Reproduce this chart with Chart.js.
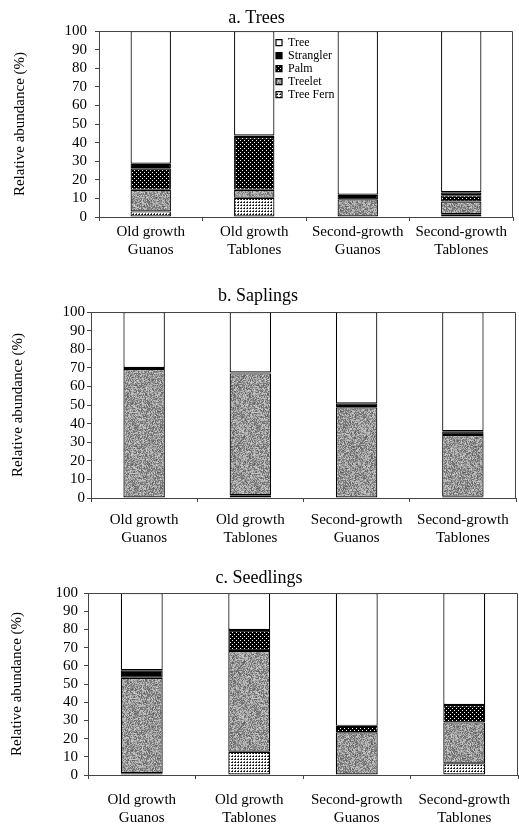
<!DOCTYPE html>
<html>
<head>
<meta charset="utf-8">
<script src="https://cdn.jsdelivr.net/npm/chart.js@4.4.0/dist/chart.umd.min.js"></script>
<style>
html,body{margin:0;padding:0;background:#fff;}
#wrap{position:relative;width:519px;height:827px;overflow:hidden;}
.pane{position:absolute;left:0;width:519px;}
</style>
</head>
<body>
<div id="wrap">
  <div class="pane" style="top:0;height:262px"><canvas id="ca"></canvas></div>
  <div class="pane" style="top:262px;height:286px"><canvas id="cb"></canvas></div>
  <div class="pane" style="top:548px;height:279px"><canvas id="cc"></canvas></div>
</div>
<script>
// ---------- data ----------
const categories = [["Old growth","Guanos"],["Old growth","Tablones"],["Second-growth","Guanos"],["Second-growth","Tablones"]];
const seriesNames = ["Tree Fern","Treelet","Palm","Strangler","Tree"];
const panelTitles = ["a. Trees","b. Saplings","c. Seedlings"];
const yAxisTitle = "Relative abundance (%)";
const yTickMin = 0, yTickMax = 100, yTickStep = 10;

// a. Trees
const treesTreeFern  = [3.0, 10.3, 0.0, 1.5];
const treesTreelet   = [11.6, 4.3, 9.5, 6.8];
const treesPalm      = [11.6, 28.4, 0.0, 3.4];
const treesStrangler = [2.4, 0.8, 2.5, 1.6];
const treesTree      = [71.4, 56.2, 88.0, 86.7];

// b. Saplings
const saplingsTreeFern  = [0.0, 1.5, 0.0, 0.7];
const saplingsTreelet   = [69.3, 65.5, 48.8, 33.2];
const saplingsPalm      = [0.0, 0.0, 0.0, 0.0];
const saplingsStrangler = [0.6, 0.5, 2.1, 2.0];
const saplingsTree      = [30.1, 32.5, 49.1, 64.1];

// c. Seedlings
const seedlingsTreeFern  = [1.0, 12.8, 0.0, 6.4];
const seedlingsTreelet   = [52.4, 55.3, 23.5, 22.5];
const seedlingsPalm      = [0.0, 11.6, 3.5, 9.6];
const seedlingsStrangler = [4.2, 0.0, 0.0, 0.0];
const seedlingsTree      = [42.4, 20.3, 73.0, 61.5];

// ---------- fill patterns ----------
function makePattern(size, draw){
  const c = document.createElement('canvas');
  c.width = size; c.height = size;
  const x = c.getContext('2d');
  draw(x, size);
  return x.createPattern(c, 'repeat');
}
const treeletFill = makePattern(61, (x, s) => {
  for (let i = 0; i < s; i++) for (let j = 0; j < s; j++) {
    let h = Math.imul(i + 11, 73856093) ^ Math.imul(j + 7, 19349663);
    h = Math.imul(h ^ (h >>> 15), 2246822519);
    h = Math.imul(h ^ (h >>> 13), 3266489917);
    h = (h ^ (h >>> 16)) >>> 0;
    const v = 95 + (h % 110);
    x.fillStyle = 'rgb(' + v + ',' + v + ',' + v + ')';
    x.fillRect(i, j, 1, 1);
  }
});
const palmFill = makePattern(4, (x) => {
  x.fillStyle = '#000'; x.fillRect(0, 0, 4, 4);
  x.fillStyle = '#fff'; x.fillRect(0, 0, 1, 1); x.fillRect(2, 2, 1, 1);
});
const fernFill = makePattern(3, (x) => {
  x.fillStyle = '#fff'; x.fillRect(0, 0, 3, 3);
  x.fillStyle = '#000'; x.fillRect(1, 1, 1, 1);
  x.fillStyle = '#444'; x.fillRect(0, 1, 1, 1);
  x.fillStyle = '#666'; x.fillRect(1, 0, 1, 1);
});
const seriesFills = [fernFill, treeletFill, palmFill, '#000', '#fff'];

// ---------- helpers ----------
const serif = 'Liberation Serif, Times New Roman, serif';

const frame = {
  id: 'frame',
  afterDatasetsDraw(chart){
    const {ctx, chartArea: a} = chart;
    ctx.save();
    ctx.strokeStyle = '#444';
    ctx.lineWidth = 1;
    ctx.beginPath();
    ctx.moveTo(a.left, a.top + 0.5);
    ctx.lineTo(a.right - 0.5, a.top + 0.5);
    ctx.lineTo(a.right - 0.5, a.bottom);
    ctx.stroke();
    ctx.restore();
  }
};

const moveLegend = {
  id: 'moveLegend',
  afterLayout(chart, args, opts){
    const lg = chart.legend;
    if (!lg || !opts || opts.x === undefined) return;
    lg.left = opts.x; lg.right = opts.x + lg.width;
    lg.top = opts.y; lg.bottom = opts.y + lg.height;
  }
};

function build(canvasId, title, series, L, showLegend){
  const datasets = series.map((vals, i) => ({
    label: seriesNames[i],
    data: vals,
    backgroundColor: seriesFills[i],
    borderColor: '#000',
    borderWidth: 1.2,
    borderSkipped: false,
    categoryPercentage: 1.0,
    barPercentage: 0.39
  }));
  return new Chart(document.getElementById(canvasId), {
    type: 'bar',
    data: { labels: categories, datasets },
    plugins: [frame, moveLegend],
    options: {
      responsive: true,
      maintainAspectRatio: false,
      animation: false,
      layout: { padding: { left: 0, right: L.padRight, top: 0, bottom: 0 } },
      plugins: {
        tooltip: { enabled: false },
        title: {
          display: true, text: title, color: '#000',
          font: { family: serif, size: 18, weight: 'normal' },
          padding: L.titlePad
        },
        legend: showLegend ? {
          display: true, position: 'chartArea', align: 'start', reverse: true,
          labels: { color: '#000', font: { family: serif, size: 12, lineHeight: 1.0 },
                    boxWidth: 6, boxHeight: 6, padding: 1 }
        } : { display: false },
        moveLegend: showLegend ? { x: 275, y: 35.7 } : {}
      },
      scales: {
        x: {
          stacked: true,
          afterFit(s){ s.height = L.xHeight; s.paddingLeft = 0; s.paddingRight = 0; },
          grid: { display: true, drawOnChartArea: false, drawTicks: true, tickLength: 4, color: '#444' },
          border: { display: true, color: '#444', width: 1 },
          ticks: { color: '#000', font: { family: serif, size: 15 }, padding: L.xTickPad,
                   maxRotation: 0, autoSkip: false }
        },
        y: {
          stacked: true,
          min: yTickMin, max: yTickMax,
          afterFit(s){ s.width = L.yWidth; },
          grid: { display: true, drawOnChartArea: false, drawTicks: true, tickLength: 4, color: '#444' },
          border: { display: true, color: '#444', width: 1 },
          ticks: { stepSize: yTickStep, autoSkip: false, color: '#000',
                   font: { family: serif, size: 15 }, padding: L.yTickPad },
          title: { display: true, text: yAxisTitle, color: '#000',
                   font: { family: serif, size: 15 }, padding: { top: L.yTitlePad, bottom: 0 } }
        }
      }
    }
  });
}

build('ca', panelTitles[0], [treesTreeFern, treesTreelet, treesPalm, treesStrangler, treesTree],
  { padRight: 6, titlePad: { top: 7.2, bottom: 2.2 }, xHeight: 45, yWidth: 99, xTickPad: 2, yTickPad: 8, yTitlePad: 11 }, true);
build('cb', panelTitles[1], [saplingsTreeFern, saplingsTreelet, saplingsPalm, saplingsStrangler, saplingsTree],
  { padRight: 3, titlePad: { top: 23.2, bottom: 5.2 }, xHeight: 50, yWidth: 91, xTickPad: 9, yTickPad: 2, yTitlePad: 9 }, false);
build('cc', panelTitles[2], [seedlingsTreeFern, seedlingsTreelet, seedlingsPalm, seedlingsStrangler, seedlingsTree],
  { padRight: 1, titlePad: { top: 19.2, bottom: 4.2 }, xHeight: 52, yWidth: 88, xTickPad: 12, yTickPad: 6, yTitlePad: 8 }, false);
</script>
</body>
</html>
